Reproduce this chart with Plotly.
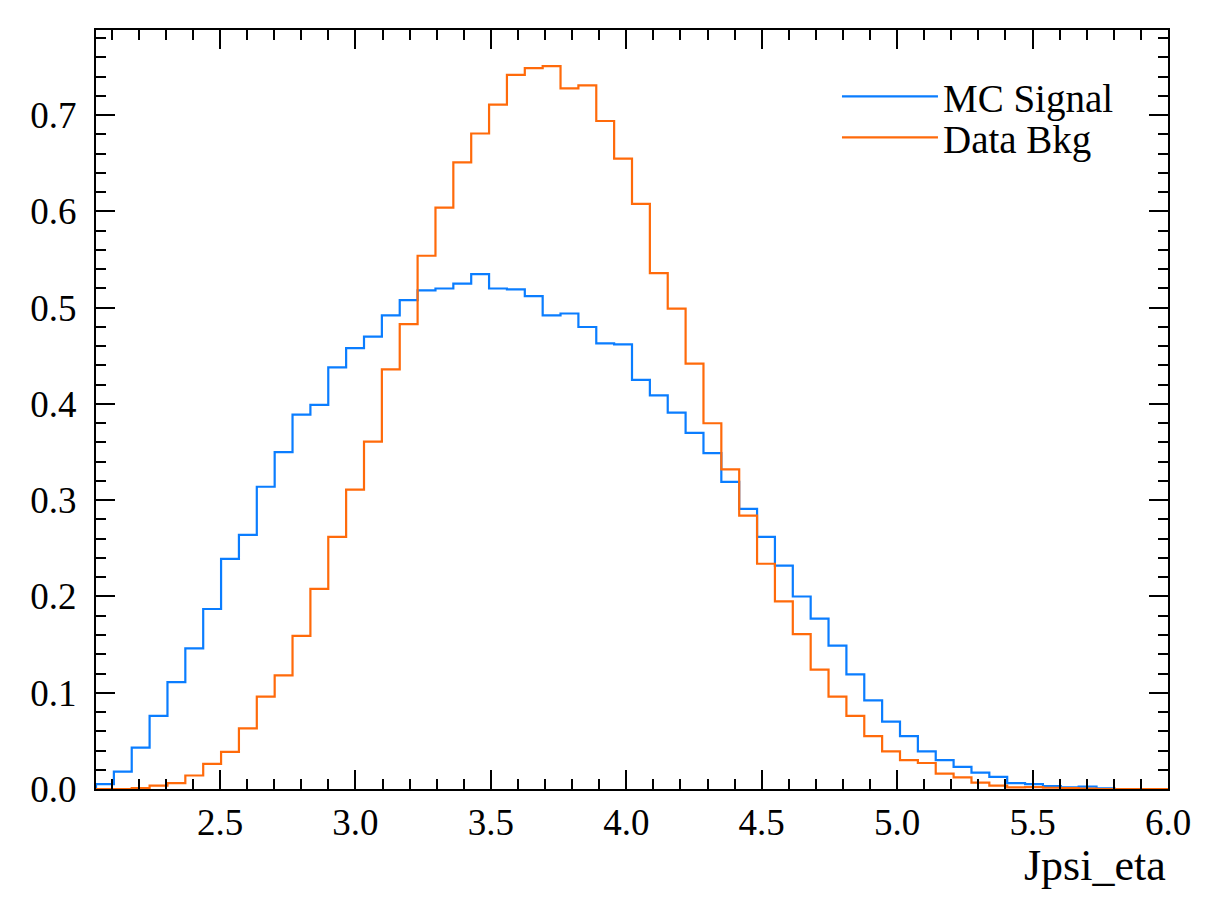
import numpy as np
import plotly.graph_objects as go

# ---- data ----
x_min = 2.042
x_max = 6.0
n_bins = 60

mc_signal = [0.005, 0.018, 0.043, 0.076, 0.111, 0.146, 0.187, 0.239, 0.264, 0.314,
             0.350, 0.389, 0.399, 0.438, 0.458, 0.470, 0.492, 0.508, 0.518, 0.520,
             0.525, 0.535, 0.520, 0.519, 0.512, 0.492, 0.494, 0.480, 0.463, 0.462,
             0.425, 0.409, 0.391, 0.370, 0.349, 0.319, 0.291, 0.262, 0.232, 0.200,
             0.177, 0.149, 0.119, 0.092, 0.070, 0.055, 0.039, 0.030, 0.023, 0.017,
             0.0125, 0.0062, 0.005, 0.003, 0.0017, 0.0024, 0.0007, 0.0, 0.0, 0.0]

data_bkg = [0.0, 0.0, 0.001, 0.0035, 0.006, 0.014, 0.026, 0.0385, 0.063, 0.096,
            0.118, 0.159, 0.208, 0.262, 0.311, 0.361, 0.436, 0.483, 0.554, 0.604,
            0.651, 0.681, 0.711, 0.742, 0.749, 0.751, 0.728, 0.731, 0.694, 0.655,
            0.608, 0.536, 0.499, 0.442, 0.380, 0.332, 0.284, 0.234, 0.195, 0.161,
            0.124, 0.096, 0.076, 0.055, 0.039, 0.030, 0.027, 0.016, 0.012, 0.0066,
            0.0035, 0.0017, 0.002, 0.0013, 0.001, 0.0005, 0.0, 0.0, 0.0, 0.0]

series_names = ["MC Signal", "Data Bkg"]
series_colors = ["#0a7dff", "#ff6a0a"]
x_title = "Jpsi_eta"

edges = np.linspace(x_min, x_max, n_bins + 1)

FONT = "Liberation Serif, Times New Roman, serif"

fig = go.Figure()
for i, (name, vals, col) in enumerate(zip(series_names, [mc_signal, data_bkg], series_colors)):
    xs = [edges[0]] + list(edges)
    ys = [0.0] + list(vals) + [0.0]
    fig.add_trace(go.Scatter(x=xs, y=ys, mode="lines", name=name, showlegend=True,
                             legend="legend" if i == 0 else "legend2",
                             line=dict(color=col, width=2.2, shape="hv")))

ymax = max(max(mc_signal), max(data_bkg)) * 1.05

axis_common = dict(
    showline=True, linecolor="black", linewidth=2, mirror="allticks",
    ticks="inside", ticklen=19, tickwidth=2, tickcolor="black",
    showgrid=False, zeroline=False,
    tickfont=dict(family=FONT, size=37, color="black"),
)

fig.update_xaxes(range=[x_min, x_max], tick0=0, dtick=0.5, tickformat=".1f",
                 minor=dict(ticks="inside", ticklen=10, tickwidth=2, tickcolor="black",
                            dtick=0.1, tick0=0, showgrid=False),
                 ticklabelstandoff=0,
                 **axis_common)
fig.update_yaxes(range=[0, ymax], tick0=0, dtick=0.1, tickformat=".1f",
                 minor=dict(ticks="inside", ticklen=10, tickwidth=2, tickcolor="black",
                            dtick=0.02, tick0=0, showgrid=False),
                 ticklabelstandoff=10,
                 **axis_common)

fig.add_annotation(text=x_title, xref="paper", yref="paper", x=1.0, y=-0.066,
                   xanchor="right", yanchor="top", showarrow=False,
                   font=dict(family=FONT, size=44, color="black"))

legend_common = dict(x=0.6912, xanchor="left", yanchor="top",
                     bgcolor="rgba(0,0,0,0)", borderwidth=0,
                     font=dict(family=FONT, size=39, color="black"),
                     itemwidth=96, visible=True)

fig.update_layout(
    width=1210, height=910,
    margin=dict(l=88, r=50, t=22, b=129),
    paper_bgcolor="white", plot_bgcolor="white",
    font=dict(family=FONT, size=37, color="black"),
    showlegend=True,
    legend=dict(y=0.9545, **legend_common),
    legend2=dict(y=0.9006, **legend_common),
)

fig.write_html("out.html")
